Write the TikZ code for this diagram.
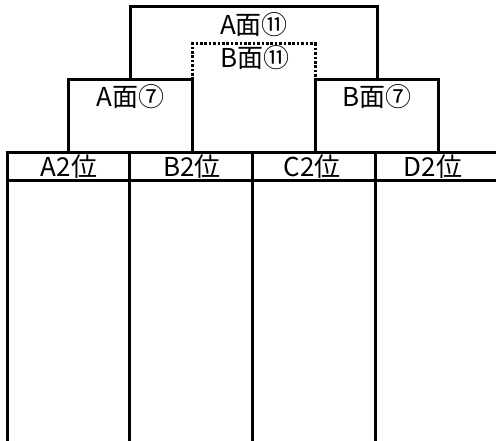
\documentclass[tikz,border=0pt]{standalone}
\usepackage{fontspec}
\setmainfont{Noto Sans CJK JP}
\begin{document}
\begin{tikzpicture}[x=1pt,y=-1pt,
  solidline/.style={line width=3pt,line cap=rect},
  dotline/.style={line width=3pt,dash pattern=on 2.6pt off 1.8pt},
  lbl/.style={font=\fontsize{26}{26}\selectfont,inner sep=0pt,anchor=center}]
\useasboundingbox (0,0) rectangle (496,441);
% bracket boxes
\draw[dotline] (192,80) -- (192,44) -- (315,44) -- (315,80);
\draw[solidline] (130,80) -- (130,7) -- (377,7) -- (377,80);
\draw[solidline] (68,153) -- (68,80) -- (192,80) -- (192,153);
\draw[solidline] (315,153) -- (315,80) -- (438,80) -- (438,153);
% table
\draw[solidline] (7,153) -- (497,153);
\draw[solidline] (7,181) -- (497,181);
\foreach \x in {7,129.5,252,375} \draw[line width=3pt] (\x,153) -- (\x,442);
% labels
\node[lbl] (a11) at (254,25) {A面⑪};
\node[lbl] (b11) at (255,58) {B面⑪};
\node[lbl] (a7) at (130.5,97) {A面⑦};
\node[lbl] (b7) at (377,97) {B面⑦};
\node[lbl] (a2) at (69,167) {A2位};
\node[lbl] (b2) at (192,167) {B2位};
\node[lbl] (c2) at (312,167) {C2位};
\node[lbl] (d2) at (433,167) {D2位};
\end{tikzpicture}
\end{document}
